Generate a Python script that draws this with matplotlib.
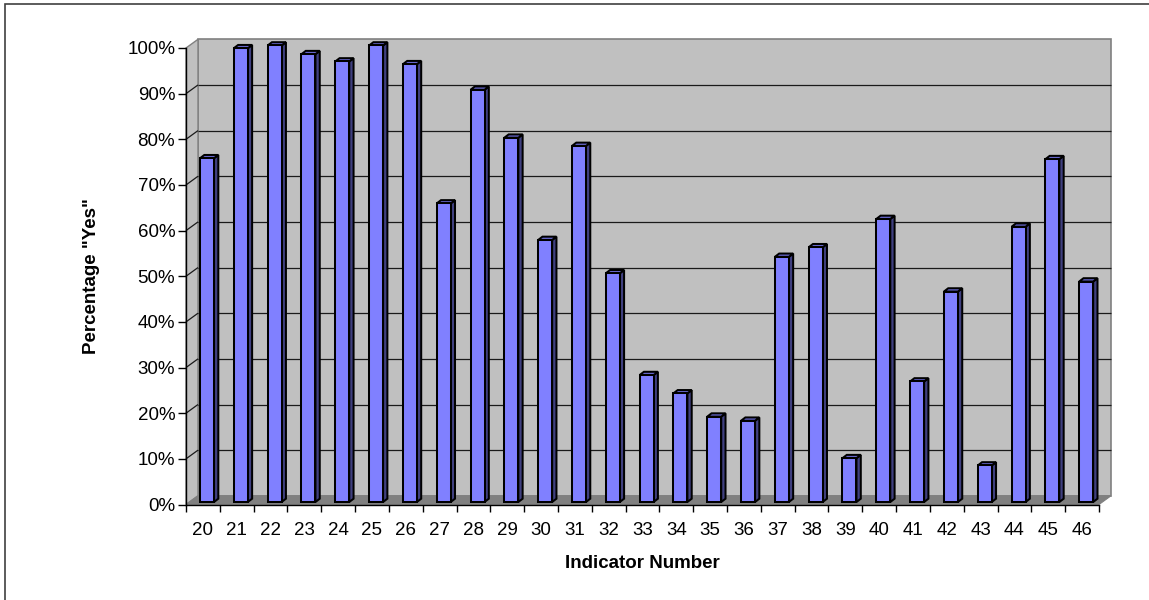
import numpy as np
import matplotlib
matplotlib.use("Agg")
import matplotlib.pyplot as plt
from matplotlib.patches import Polygon, Rectangle

plt.rcParams['font.family'] = ['Liberation Sans', 'DejaVu Sans']

# ---- data ----
indicators = [str(n) for n in range(20, 47)]
pct_yes = [75.3, 99.4, 100.0, 98.1, 96.5, 100.0, 95.9, 65.4, 90.3, 79.8,
           57.4, 78.0, 50.1, 27.8, 23.8, 18.7, 17.8, 53.7, 55.8, 9.6,
           62.0, 26.4, 46.1, 8.0, 60.3, 75.1, 48.3]
y_ticks = list(range(0, 101, 10))

# ---- figure / axes layout (pixels) ----
W, H = 1149, 600
fig = plt.figure(figsize=(W / 100, H / 100), dpi=100)
fig.patch.set_facecolor('white')
ax_l, ax_r, ax_t, ax_b = 186, 1099, 48, 504.5
ax = fig.add_axes([ax_l / W, (H - ax_b) / H, (ax_r - ax_l) / W, (ax_b - ax_t) / H])
n = len(indicators)
ax.set_xlim(-0.5, n - 0.5)
ax.set_ylim(0, 100)
ax.patch.set_visible(False)

px_x = (ax_r - ax_l) / n          # pixels per category
px_y = (ax_b - ax_t) / 100        # pixels per percent

# 3-D depth of the chart box and of the bars (in data units)
DX, DY = 12 / px_x, 8.7 / px_y
bar_w = 14 / px_x
bar_ox, bar_oy = 4.1 / px_x, 2.5 / px_y
bar_dx, bar_dy = 4.3 / px_x, 3.3 / px_y

x0, x1 = -0.5, n - 0.5
wall_col, floor_col, edge_col = '#C0C0C0', '#808080', '#808080'

# back wall
ax.add_patch(Polygon([(x0 + DX, DY), (x1 + DX, DY), (x1 + DX, 100 + DY), (x0 + DX, 100 + DY)],
                     closed=True, facecolor=wall_col, edgecolor=edge_col, lw=1.2,
                     clip_on=False, zorder=1))
# side wall
ax.add_patch(Polygon([(x0, 0), (x0 + DX, DY), (x0 + DX, 100 + DY), (x0, 100)],
                     closed=True, facecolor=wall_col, edgecolor=edge_col, lw=1.0,
                     clip_on=False, zorder=1))
# floor
ax.add_patch(Polygon([(x0, 0), (x1, 0), (x1 + DX, DY), (x0 + DX, DY)],
                     closed=True, facecolor=floor_col, edgecolor=floor_col, lw=0.8,
                     clip_on=False, zorder=1.5))

# gridlines on back wall and side wall
for v in y_ticks[1:-1]:
    ax.plot([x0 + DX, x1 + DX], [v + DY, v + DY], color='#1a1a1a', lw=0.9,
            clip_on=False, zorder=2, solid_capstyle='butt')
    ax.plot([x0, x0 + DX], [v, v + DY], color='#1a1a1a', lw=0.9,
            clip_on=False, zorder=2, solid_capstyle='butt')

# bars with front, side and top faces
front_col, side_col, top_col = '#8080FF', '#404080', '#6666CC'
for i, v in enumerate(pct_yes):
    xl = i - bar_w / 2 + bar_ox
    xr = xl + bar_w
    yb = bar_oy
    yt = v + bar_oy
    kw = dict(closed=True, edgecolor='black', lw=1.45, joinstyle='miter',
              clip_on=False, zorder=3)
    ax.add_patch(Polygon([(xr, yb), (xr + bar_dx, yb + bar_dy),
                          (xr + bar_dx, yt + bar_dy), (xr, yt)], facecolor=side_col, **kw))
    ax.add_patch(Polygon([(xl, yt), (xr, yt), (xr + bar_dx, yt + bar_dy),
                          (xl + bar_dx, yt + bar_dy)], facecolor=top_col, **kw))
    ax.add_patch(Polygon([(xl, yb), (xr, yb), (xr, yt), (xl, yt)], facecolor=front_col, **kw))

# axes lines and ticks
for s in ('top', 'right'):
    ax.spines[s].set_visible(False)
for s in ('left', 'bottom'):
    ax.spines[s].set_color('black')
    ax.spines[s].set_linewidth(1.0)
    ax.spines[s].set_zorder(4)

ax.set_yticks(y_ticks)
ax.set_yticklabels([f'{v}%' for v in y_ticks])
ax.tick_params(axis='y', direction='out', length=5.8, width=1.0, pad=2,
               labelsize=13.5, colors='black')

ax.set_xticks(np.arange(-0.5, n, 1.0))
ax.set_xticklabels([])
ax.tick_params(axis='x', which='major', direction='out', length=5.2, width=1.0)
ax.set_xticks(np.arange(n), minor=True)
ax.set_xticklabels(indicators, minor=True)
ax.tick_params(axis='x', which='minor', length=0, pad=12.5, labelsize=13.5)

ax.text(0.5, -0.13, 'Indicator Number', transform=ax.transAxes,
        ha='center', va='center', fontsize=13.5, fontweight='bold')
ax.text((91 - ax_l) / (ax_r - ax_l), 0.5, 'Percentage "Yes"', transform=ax.transAxes,
        ha='center', va='center', rotation=90, fontsize=13.5, fontweight='bold')

# chart area border
fig.patches.append(Rectangle((5 / W, -0.05), 1.1, (H - 4) / H + 0.05,
                             transform=fig.transFigure, fill=False,
                             edgecolor='#404040', lw=1.2))

fig.savefig('out.png', dpi=100)
